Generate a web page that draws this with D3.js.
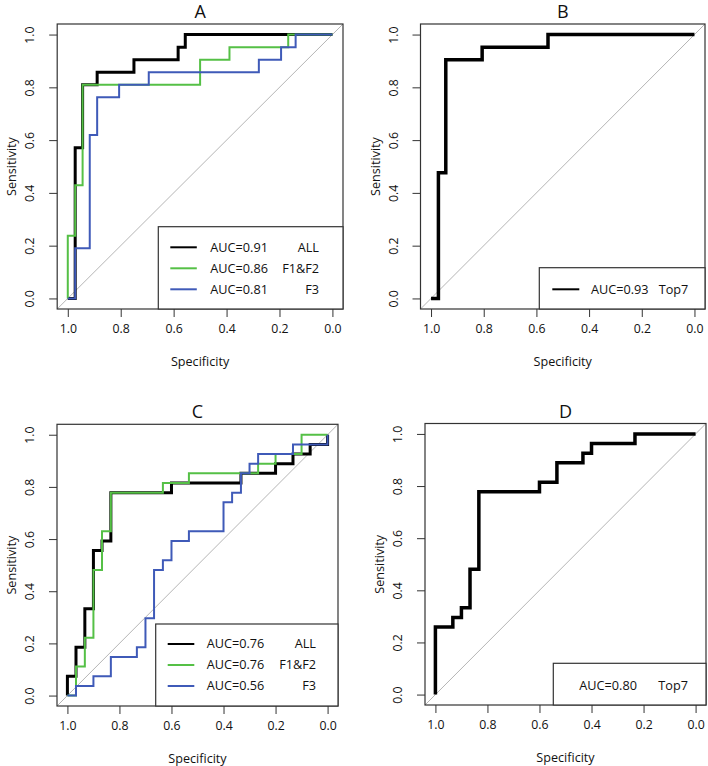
<!DOCTYPE html>
<html><head><meta charset="utf-8">
<script src="https://cdn.jsdelivr.net/npm/d3@7"></script>
<style>body{margin:0;background:#fff}svg text{font-family:"Open Sans",sans-serif;fill:#111}</style>
</head><body><svg id="c" width="708" height="766"></svg>
<script>
// ---- data ----
const panelTitles = ["A","B","C","D"];
const tickValues = [1.0,0.8,0.6,0.4,0.2,0.0];
const tickLabels = ["1.0","0.8","0.6","0.4","0.2","0.0"];
const seriesNames = ["ALL","F1&F2","F3"];
const seriesColors = ["#000000","#55c046","#3f5ab8"];

// Panel A
const specA_all = [1,0.972,0.944,0.889,0.75,0.583,0.556,0];
const sensA_all = [0,0.571,0.810,0.857,0.905,0.952,1,1];
const specA_f12 = [1,1,0.972,0.944,0.5,0.389,0.167,0];
const sensA_f12 = [0,0.238,0.429,0.810,0.905,0.952,1,1];
const specA_f3  = [1,0.972,0.917,0.889,0.806,0.694,0.278,0.194,0.139,0];
const sensA_f3  = [0,0.190,0.619,0.762,0.810,0.857,0.905,0.952,1,1];
const aucA = ["AUC=0.91","AUC=0.86","AUC=0.81"];

// Panel B
const specB_top7 = [1,0.972,0.944,0.806,0.556,0];
const sensB_top7 = [0,0.476,0.905,0.952,1,1];
const aucB = ["AUC=0.93"];

// Panel C
const specC_all = [1,1,0.967,0.933,0.9,0.867,0.833,0.6,0.333,0.2,0.133,0.067,0];
const sensC_all = [0,0.074,0.185,0.333,0.556,0.593,0.778,0.815,0.852,0.889,0.926,0.963,1];
const specC_f12 = [1,0.967,0.933,0.9,0.867,0.833,0.633,0.533,0.267,0.2,0.1,0];
const sensC_f12 = [0,0.111,0.222,0.481,0.630,0.778,0.815,0.852,0.889,0.926,1,1];
const specC_f3  = [1,0.967,0.9,0.833,0.733,0.7,0.667,0.633,0.6,0.533,0.4,0.367,0.333,0.3,0.267,0.133,0];
const sensC_f3  = [0,0.037,0.074,0.148,0.185,0.296,0.481,0.519,0.593,0.630,0.741,0.778,0.852,0.889,0.926,0.963,1];
const aucC = ["AUC=0.76","AUC=0.76","AUC=0.56"];

// Panel D
const specD_top7 = [1,1,0.933,0.9,0.867,0.833,0.6,0.533,0.433,0.4,0.233,0];
const sensD_top7 = [0,0.259,0.296,0.333,0.481,0.778,0.815,0.889,0.926,0.963,1,1];
const aucD = ["AUC=0.80"];

// ---- layout ----
const svg = d3.select("#c");
const panels = [
  {title:"A", box:[57.2,24,343,309], curves:[[specA_all,sensA_all,0,3],[specA_f12,sensA_f12,1,2],[specA_f3,sensA_f3,2,2]],
   auc:aucA, names:seriesNames, legend:{left:158.3,top:226.7,lineX:[12,38.5],textX:52,rows:[20.6,41.6,62.6],nameRight:24,showLine:true}},
  {title:"B", box:[420.5,24,705,309], curves:[[specB_top7,sensB_top7,0,3.5]],
   auc:aucB, names:["Top7"], legend:{left:539.3,top:267.7,lineX:[13,40],textX:51.7,rows:[21.6],nameLeft:119.4,showLine:true}},
  {title:"C", box:[57,424.3,338,706], curves:[[specC_all,sensC_all,0,3],[specC_f12,sensC_f12,1,2],[specC_f3,sensC_f3,2,2]],
   auc:aucC, names:seriesNames, legend:{left:155.7,top:624,lineX:[12,38.6],textX:51,rows:[20,41,62],nameRight:22,showLine:true}},
  {title:"D", box:[425,423.5,706,705], curves:[[specD_top7,sensD_top7,0,3.5]],
   auc:aucD, names:["Top7"], legend:{left:553.3,top:663.3,textX:26,rows:[22.7],nameLeft:105,showLine:false}}
];

panels.forEach((p,pi)=>{
  const [x0,y0,x1,y1] = p.box;
  const x = d3.scaleLinear().domain([1.04,-0.04]).range([x0,x1]);
  const y = d3.scaleLinear().domain([-0.04,1.04]).range([y1,y0]);
  const g = svg.append("g");
  const clipId = "clip"+pi;
  g.append("clipPath").attr("id",clipId).append("rect").attr("x",x0).attr("y",y0).attr("width",x1-x0).attr("height",y1-y0);

  // diagonal
  g.append("line").attr("clip-path",`url(#${clipId})`)
    .attr("x1",x(1.04)).attr("y1",y(-0.04)).attr("x2",x(-0.04)).attr("y2",y(1.04))
    .attr("stroke","#b5b5b5").attr("stroke-width",1);

  // curves
  p.curves.forEach(([sp,se,ci,w])=>{
    const pts = sp.map((s,i)=>[s,se[i]]);
    g.append("path").datum(pts)
      .attr("d", d3.line().x(d=>x(d[0])).y(d=>y(d[1])).curve(d3.curveStepAfter))
      .attr("fill","none").attr("stroke",seriesColors[ci]).attr("stroke-width",w)
      .attr("stroke-linejoin","miter");
  });

  // axes
  const xa = g.append("g").attr("transform",`translate(0,${y1})`)
    .call(d3.axisBottom(x).tickValues(tickValues).tickFormat((d,i)=>tickLabels[i]).tickSize(8).tickSizeOuter(0).tickPadding(7));
  const ya = g.append("g").attr("transform",`translate(${x0},0)`)
    .call(d3.axisLeft(y).tickValues(tickValues).tickFormat((d,i)=>tickLabels[i]).tickSize(8).tickSizeOuter(0));
  [xa,ya].forEach(a=>{a.select(".domain").remove(); a.selectAll("line").attr("stroke","#333");
    a.selectAll("text").style("font-family",'"Open Sans",sans-serif').style("font-size","12.3px").attr("fill","#111");});
  ya.selectAll(".tick text").attr("transform","rotate(-90)").attr("x",0).attr("y",-23).attr("dy","0").attr("text-anchor","middle");

  // box
  g.append("rect").attr("x",x0).attr("y",y0).attr("width",x1-x0).attr("height",y1-y0)
    .attr("fill","none").attr("stroke","#333").attr("stroke-width",1.2);

  // labels
  g.append("text").attr("x",(x0+x1)/2).attr("y",y0-6).attr("text-anchor","middle").style("font-size","18px").text(p.title);
  g.append("text").attr("x",(x0+x1)/2).attr("y",y1+57).attr("text-anchor","middle").style("font-size","12.6px").text("Specificity");
  g.append("text").attr("transform",`translate(${x0-41},${(y0+y1)/2}) rotate(-90)`).attr("text-anchor","middle").style("font-size","12.6px").text("Sensitivity");

  // legend
  const L = p.legend;
  g.append("rect").attr("x",L.left).attr("y",L.top).attr("width",x1-L.left).attr("height",y1-L.top)
    .attr("fill","#fff").attr("stroke","#333").attr("stroke-width",1.2);
  p.auc.forEach((a,i)=>{
    const ry = L.top+L.rows[i];
    const ci = p.curves[i][2];
    if(L.showLine) g.append("line").attr("x1",L.left+L.lineX[0]).attr("x2",L.left+L.lineX[1]).attr("y1",ry).attr("y2",ry)
      .attr("stroke",seriesColors[ci]).attr("stroke-width",2);
    g.append("text").attr("x",L.left+L.textX).attr("y",ry).attr("dy","0.35em").style("font-size","12.7px").text(a);
    if(L.nameRight!==undefined)
      g.append("text").attr("x",x1-L.nameRight).attr("y",ry).attr("dy","0.35em").attr("text-anchor","end").style("font-size","12.7px").text(p.names[i]);
    else
      g.append("text").attr("x",L.left+L.nameLeft).attr("y",ry).attr("dy","0.35em").style("font-size","12.7px").text(p.names[i]);
  });
});
</script></body></html>
